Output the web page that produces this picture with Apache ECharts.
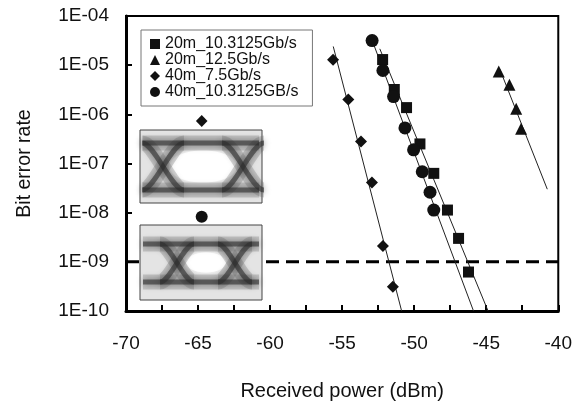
<!DOCTYPE html>
<html>
<head>
<meta charset="utf-8">
<script src="https://cdn.jsdelivr.net/npm/echarts@6/dist/echarts.min.js"></script>
<style>
html,body{margin:0;padding:0;background:#fff;}
#c{width:575px;height:406px;}
</style>
</head>
<body>
<div id="c"></div>
<script>
// ---- data ----
const seriesNames = ['20m_10.3125Gb/s', '20m_12.5Gb/s', '40m_7.5Gb/s', '40m_10.3125GB/s'];
const power_sq  = [-52.19, -51.38, -50.53, -49.60, -48.64, -47.69, -46.92, -46.23];
const ber_sq    = [1.3e-5, 3.2e-6, 1.37e-6, 2.5e-7, 6.3e-8, 1.13e-8, 3.0e-9, 6.2e-10];
const power_tri = [-44.13, -43.39, -42.92, -42.58];
const ber_tri   = [7.4e-6, 4.0e-6, 1.3e-6, 5.1e-7];
const power_dia = [-55.63, -54.57, -53.69, -52.93, -52.17, -51.48];
const ber_dia   = [1.29e-5, 2.0e-6, 2.8e-7, 4.1e-8, 2.1e-9, 3.1e-10];
const power_cir = [-52.92, -52.17, -51.43, -50.64, -50.04, -49.44, -48.90, -48.64];
const ber_cir   = [3.16e-5, 7.8e-6, 2.3e-6, 5.3e-7, 1.9e-7, 6.8e-8, 2.6e-8, 1.13e-8];
// BER span covered by each fitted line (top, bottom)
const fitTop    = [2.15e-5, 8.5e-6, 2.4e-5, 3.16e-5];
const fitBottom = [1e-10, 3e-8, 1e-10, 1e-10];
const floorBER  = 1e-9;
const xRange    = [-70, -40];
const xTickLabels = ['-70', '-65', '-60', '-55', '-50', '-45', '-40'];
const yTickLabels = ['1E-10', '1E-09', '1E-08', '1E-07', '1E-06', '1E-05', '1E-04'];

// ---- helpers ----
function pairs(xs, ys) { return xs.map((x, i) => [x, ys[i]]); }
function fitLine(xs, ys, top, bottom) {
  const ly = ys.map(v => Math.log10(v));
  const n = xs.length;
  const mx = xs.reduce((a, b) => a + b, 0) / n;
  const my = ly.reduce((a, b) => a + b, 0) / n;
  let sxy = 0, sxx = 0;
  for (let i = 0; i < n; i++) { sxy += (xs[i] - mx) * (ly[i] - my); sxx += (xs[i] - mx) * (xs[i] - mx); }
  const k = sxy / sxx;
  const xAt = v => mx + (Math.log10(v) - my) / k;
  return [[xAt(top), top], [xAt(bottom), bottom]];
}
const allX = [power_sq, power_tri, power_dia, power_cir];
const allY = [ber_sq, ber_tri, ber_dia, ber_cir];
const symbols = ['rect', 'triangle', 'diamond', 'circle'];
const sizes = [11, 12, 12, 13];

const FONT = '"Liberation Sans", Arial, sans-serif';
const INK = '#111';

const series = [];
// dashed BER floor line
series.push({
  name: 'floor', type: 'line', silent: true, symbol: 'none', z: 1,
  data: [[xRange[0], floorBER], [xRange[1], floorBER]],
  lineStyle: { color: '#000', width: 3, type: [13, 7] }
});
for (let i = 0; i < 4; i++) {
  series.push({
    name: 'fit' + i, type: 'line', silent: true, symbol: 'none', z: 2,
    data: fitLine(allX[i], allY[i], fitTop[i], fitBottom[i]),
    lineStyle: { color: '#222', width: 1 }
  });
}
for (let i = 0; i < 4; i++) {
  series.push({
    name: seriesNames[i], type: 'scatter', z: 3,
    symbol: symbols[i], symbolSize: sizes[i],
    itemStyle: { color: INK, opacity: 1 },
    data: pairs(allX[i], allY[i])
  });
}

// ---- eye-diagram insets (decoration) ----
function eye(x0, y0, w, h, crossings, yTop, yBot, hw, interior) {
  const els = [];
  els.push({ type: 'rect', z: 100, shape: { x: x0, y: y0, width: w, height: h },
    style: { fill: '#e4e4e4', stroke: '#444', lineWidth: 1 } });
  interior.forEach(e => els.push({ type: 'ellipse', z: 101, shape: e, style: { fill: '#fff', shadowBlur: 4, shadowColor: '#fff' } }));
  const curves = [];
  curves.push({ type: 'line', shape: { x1: x0 + 3, y1: yTop, x2: x0 + w - 3, y2: yTop } });
  curves.push({ type: 'line', shape: { x1: x0 + 3, y1: yBot, x2: x0 + w - 3, y2: yBot } });
  crossings.forEach(xc => {
    curves.push({ type: 'bezierCurve', shape: { x1: xc - hw, y1: yTop, cpx1: xc - hw * 0.4, cpy1: yTop, cpx2: xc + hw * 0.4, cpy2: yBot, x2: xc + hw, y2: yBot } });
    curves.push({ type: 'bezierCurve', shape: { x1: xc - hw, y1: yBot, cpx1: xc - hw * 0.4, cpy1: yBot, cpx2: xc + hw * 0.4, cpy2: yTop, x2: xc + hw, y2: yTop } });
  });
  curves.forEach(c => els.push(Object.assign({}, c, { z: 102, style: { stroke: 'rgba(110,110,110,0.28)', lineWidth: 15, fill: null } })));
  curves.forEach(c => els.push(Object.assign({}, c, { z: 103, style: { stroke: 'rgba(45,45,45,0.6)', lineWidth: 5, fill: null, shadowBlur: 7, shadowColor: 'rgba(0,0,0,0.7)' } })));
  return els;
}
const graphics = []
  .concat(eye(140, 130, 122, 73, [163, 243], 143, 190, 21, [{ cx: 203, cy: 166.5, rx: 34, ry: 16 }]))
  .concat(eye(140, 225, 122, 75, [177, 235], 244, 282, 17, [{ cx: 206, cy: 262.5, rx: 20, ry: 10 }]))
  .concat([
    { type: 'polygon', z: 104, shape: { points: [[201.7, 115], [207.5, 121], [201.7, 127], [195.9, 121]] }, style: { fill: INK } },
    { type: 'circle', z: 104, shape: { cx: 201.7, cy: 216.7, r: 6 }, style: { fill: INK } }
  ]);

const chart = echarts.init(document.getElementById('c'), null, { renderer: 'canvas' });
chart.setOption({
  animation: false,
  backgroundColor: '#fff',
  textStyle: { fontFamily: FONT, color: INK },
  grid: { left: 126, right: 16, top: 16, bottom: 94, show: true, borderColor: '#000', borderWidth: 2, backgroundColor: 'transparent' },
  legend: {
    data: seriesNames, orient: 'vertical', left: 141, top: 30,
    padding: [6, 14, 6, 9], itemWidth: 10, itemHeight: 10, itemGap: 0,
    backgroundColor: '#fff', borderColor: '#777', borderWidth: 1,
    textStyle: { fontFamily: FONT, fontSize: 16, lineHeight: 15, color: INK },
    itemStyle: { opacity: 1 },
    selectedMode: false
  },
  xAxis: {
    type: 'value', min: xRange[0], max: xRange[1], interval: 5,
    name: 'Received power (dBm)', nameLocation: 'middle', nameGap: 70,
    nameTextStyle: { fontFamily: FONT, fontSize: 20, color: INK },
    axisLine: { onZero: false, lineStyle: { color: '#000', width: 3 } },
    axisTick: { show: true, inside: true, length: 6, lineStyle: { color: '#000', width: 2 } },
    minorTick: { show: true, splitNumber: 2, length: 6, lineStyle: { color: '#000', width: 2 } },
    splitLine: { show: false },
    axisLabel: { fontFamily: FONT, fontSize: 19, color: INK, margin: 23,
      formatter: v => { const i = Math.round((v + 70) / 5); return xTickLabels[i] !== undefined ? xTickLabels[i] : ''; } }
  },
  yAxis: {
    type: 'log', logBase: 10, min: 1e-10, max: 1e-4, splitNumber: 6,
    name: 'Bit error rate', nameLocation: 'middle', nameGap: 91,
    nameTextStyle: { fontFamily: FONT, fontSize: 19.5, color: INK },
    axisLine: { onZero: false, lineStyle: { color: '#000', width: 3 } },
    axisTick: { show: true, inside: true, length: 6, lineStyle: { color: '#000', width: 2 } },
    splitLine: { show: false },
    axisLabel: { fontFamily: FONT, fontSize: 19, color: INK, margin: 17,
      formatter: v => { const i = Math.round(Math.log10(v)) + 10; return yTickLabels[i] !== undefined ? yTickLabels[i] : ''; } }
  },
  series: series,
  graphic: { elements: graphics }
});
</script>
</body>
</html>
